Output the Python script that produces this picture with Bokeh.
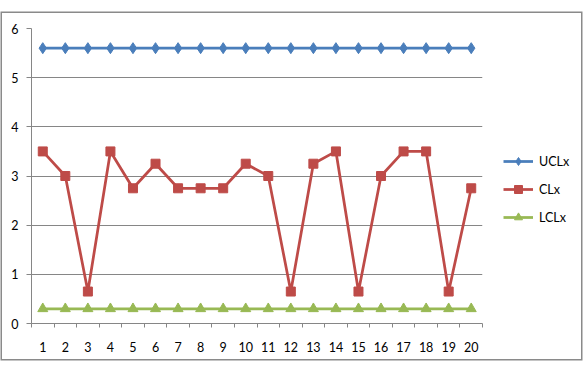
from bokeh.plotting import figure
from bokeh.models import FixedTicker, Legend, LegendItem, Range1d
from bokeh.layouts import row
from bokeh.embed import file_html
from bokeh.resources import INLINE

x_labels = [str(i) for i in range(1, 21)]
x = list(range(1, 21))
uclx = [5.6] * 20
clx = [3.5, 3.0, 0.65, 3.5, 2.75, 3.25, 2.75, 2.75, 2.75, 3.25,
       3.0, 0.65, 3.25, 3.5, 0.65, 3.0, 3.5, 3.5, 0.65, 2.75]
lclx = [0.3] * 20
y_ticks = [0, 1, 2, 3, 4, 5, 6]
series_names = ["UCLx", "CLx", "LCLx"]

FONT = "Lato"
GRAY = "#868686"
BLUE = "#4A7EBB"
RED = "#BE4B48"
GREEN = "#98B954"
LW = 2.75

p = figure(width=490, height=346, output_backend="svg", toolbar_location=None,
           x_range=Range1d(0.5, 20.5), y_range=Range1d(0, 6),
           min_border_left=29, min_border_right=10, min_border_top=15,
           min_border_bottom=36)
p.outline_line_color = None
p.background_fill_color = "white"
p.border_fill_color = "white"

p.xaxis.ticker = FixedTicker(ticks=x, minor_ticks=[i + 0.5 for i in range(0, 21)])
p.xaxis.major_label_overrides = {i: s for i, s in zip(x, x_labels)}
p.xaxis.major_tick_line_color = None
p.xaxis.minor_tick_line_color = GRAY
p.xaxis.minor_tick_out = 4
p.xaxis.minor_tick_in = 0
p.xaxis.axis_line_color = GRAY
p.xaxis.major_label_standoff = 12
p.yaxis.ticker = FixedTicker(ticks=y_ticks)
p.yaxis.major_tick_line_color = GRAY
p.yaxis.major_tick_out = 5
p.yaxis.major_tick_in = 0
p.yaxis.minor_tick_line_color = None
p.yaxis.axis_line_color = GRAY
p.yaxis.major_label_standoff = 8
for ax in (p.xaxis, p.yaxis):
    ax.major_label_text_font = FONT
    ax.major_label_text_font_size = "12.5px"
    ax.major_label_text_color = "#000000"
p.xgrid.grid_line_color = None
p.ygrid.ticker = FixedTicker(ticks=y_ticks[1:])
p.ygrid.grid_line_color = GRAY
p.ygrid.grid_line_width = 1

p.line(x, uclx, line_color=BLUE, line_width=LW)
p.scatter(x, uclx, marker="diamond", size=11, fill_color=BLUE, line_color=BLUE)
p.line(x, clx, line_color=RED, line_width=LW)
p.scatter(x, clx, marker="square", size=9, fill_color=RED, line_color=RED)
p.line(x, lclx, line_color=GREEN, line_width=LW)
p.scatter(x, lclx, marker="triangle", size=10, fill_color=GREEN, line_color=GREEN)

# legend panel (separate figure so the legend is not clipped)
lf = figure(width=89, height=346, output_backend="svg", toolbar_location=None,
            x_range=Range1d(0, 1), y_range=Range1d(0, 1),
            x_axis_location=None, y_axis_location=None,
            min_border_left=0, min_border_right=0, min_border_top=0,
            min_border_bottom=0)
lf.outline_line_color = None
lf.grid.grid_line_color = None
lf.background_fill_color = "white"
lf.border_fill_color = "white"
items = []
for name, col, mk, sz in zip(series_names, [BLUE, RED, GREEN],
                             ["diamond", "square", "triangle"], [11, 9, 10]):
    rl = lf.line([-5, -4], [-5, -5], line_color=col, line_width=LW)
    rm = lf.scatter([-5], [-5], marker=mk, size=sz, fill_color=col, line_color=col)
    items.append(LegendItem(label=name, renderers=[rl, rm]))
legend = Legend(items=items, location=(11, 96), orientation="vertical",
                glyph_width=30, glyph_height=20, label_height=20,
                label_standoff=6, spacing=8, padding=0, margin=0,
                background_fill_alpha=0, border_line_color=None,
                label_text_font=FONT, label_text_font_size="12.5px",
                label_text_color="#000000")
lf.add_layout(legend, "center")

layout = row(p, lf)
layout.margin = (13, 0, 0, 2)
layout.styles = {"box-shadow": "0 0 0 1.5px #8a8a8a"}

open("out.html", "w").write(file_html(layout, INLINE))
